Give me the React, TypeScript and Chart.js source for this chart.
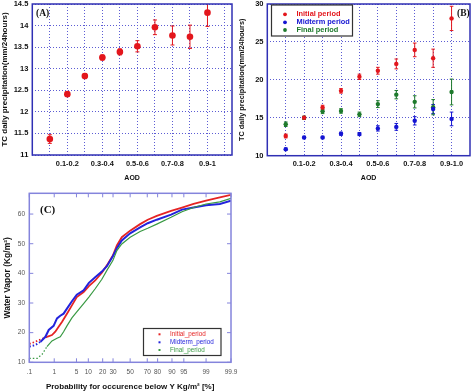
import React, { useEffect, useRef } from 'react';
import { Chart, registerables, LinearScale } from 'chart.js';

Chart.register(...registerables);

// ---------------- DATA ----------------
const aodBinsA = ['0-0.1', '0.1-0.2', '0.2-0.3', '0.3-0.4', '0.4-0.5', '0.5-0.6', '0.6-0.7', '0.7-0.8', '0.8-0.9', '0.9-1'];
const aodBinsB = ['0-0.1', '0.1-0.2', '0.2-0.3', '0.3-0.4', '0.4-0.5', '0.5-0.6', '0.6-0.7', '0.7-0.8', '0.8-0.9', '0.9-1.0'];

const precipA = [11.37, 12.41, 12.83, 13.26, 13.39, 13.52, 13.96, 13.77, 13.74, 14.3];
const precipAErr = [0.1, 0.05, 0.06, 0.06, 0.07, 0.13, 0.17, 0.22, 0.27, 0.32];
const yTicksA = [11, 11.5, 12, 12.5, 13, 13.5, 14, 14.5];

const initialB = [12.6, 15.0, 16.35, 18.55, 20.4, 21.2, 22.1, 23.95, 22.85, 28.1];
const initialBErr = [0.25, 0.2, 0.3, 0.3, 0.35, 0.45, 0.65, 0.9, 1.2, 1.6];
const midtermB = [10.85, 12.4, 12.4, 12.9, 12.85, 13.6, 13.8, 14.6, 16.15, 14.85];
const midtermBErr = [0.15, 0.15, 0.15, 0.2, 0.2, 0.35, 0.45, 0.55, 0.6, 0.9];
const finalB = [14.15, 15.0, 15.85, 15.9, 15.45, 16.8, 18.05, 17.1, 16.4, 18.4];
const finalBErr = [0.3, 0.2, 0.3, 0.3, 0.3, 0.45, 0.55, 0.8, 1.0, 1.7];
const yTicksB = [10, 15, 20, 25, 30];

const probTicks = [0.1, 1, 5, 10, 20, 30, 50, 70, 80, 90, 95, 99, 99.9];
const probTickLabels = ['.1', '1', '5', '10', '20', '30', '50', '70', '80', '90', '95', '99', '99.9'];
const vaporTicks = [10, 20, 30, 40, 50, 60];

const initialProb = [0.1, 0.18, 0.3, 0.54, 0.83, 1.09, 1.42, 1.83, 2.64, 3.72, 5.1, 7.7, 10.3, 14.2, 19.3, 23.8, 29.8, 34.2, 39.9, 50, 62, 70.5, 79.3, 89.5, 94.4, 97.4, 99.0, 99.7, 99.9];
const initialVapor = [16.2, 16.9, 17.7, 18.6, 19.2, 20.3, 22.0, 23.6, 26.4, 29.2, 32.0, 33.7, 35.7, 37.6, 40.2, 42.7, 46.0, 49.4, 52.2, 54.4, 56.6, 58.1, 59.4, 61.1, 62.2, 63.4, 64.5, 65.6, 66.5];
const midtermProb = [0.1, 0.18, 0.3, 0.47, 0.63, 0.95, 1.25, 1.61, 2.07, 2.64, 3.72, 5.1, 7.7, 10.3, 14.2, 19.3, 23.8, 29.8, 34.2, 39.9, 50, 62, 70.5, 79.3, 89.5, 94.4, 97.4, 99.0, 99.7, 99.9];
const midtermVapor = [15.3, 15.8, 16.9, 18.6, 20.9, 22.3, 24.8, 25.7, 26.4, 28.1, 30.6, 32.8, 34.3, 36.8, 38.7, 40.6, 42.4, 45.8, 48.5, 51.1, 53.5, 55.5, 56.9, 58.1, 59.8, 61.5, 62.2, 63.0, 63.4, 64.5];
const finalProb = [0.1, 0.22, 0.35, 0.54, 0.83, 1.25, 1.61, 2.07, 2.64, 3.72, 5.1, 7.7, 10.3, 14.2, 19.3, 23.8, 29.8, 34.2, 39.9, 50, 62, 70.5, 79.3, 89.5, 94.4, 97.4, 99.0, 99.7, 99.9];
const finalVapor = [11.3, 11.3, 12.7, 15.3, 17.2, 18.1, 18.6, 20.3, 22.3, 25.0, 27.0, 29.8, 32.0, 34.8, 38.0, 41.0, 44.3, 47.7, 49.9, 52.2, 54.1, 55.2, 56.6, 58.9, 60.8, 62.2, 63.4, 64.1, 65.3];

// ---------------- STYLE ----------------
const SANS = '"Liberation Sans", Arial, sans-serif';
const SERIF = '"Liberation Serif", "Times New Roman", serif';
const GRID = '#5c5cd4';
const FRAME = '#3030b4';
const RED = '#e3161c';
const BLUE = '#1414d2';
const GREEN = '#1e7a2c';
const C_RED = '#e52424';
const C_BLUE = '#2323dc';
const C_GREEN = '#3a9a44';
const C_FRAME = '#8484dc';

// ---------------- probability scale ----------------
function probit(p: number): number {
  const a = [-3.969683028665376e1, 2.209460984245205e2, -2.759285104469687e2, 1.38357751867269e2, -3.066479806614716e1, 2.506628277459239];
  const b = [-5.447609879822406e1, 1.615858368580409e2, -1.556989798598866e2, 6.680131188771972e1, -1.328068155288572e1];
  const c = [-7.784894002430293e-3, -3.223964580411365e-1, -2.400758277161838, -2.549732539343734, 4.374664141464968, 2.938163982698783];
  const d = [7.784695709041462e-3, 3.224671290700398e-1, 2.445134137142996, 3.754408661907416];
  const pl = 0.02425;
  if (p < pl) {
    const q = Math.sqrt(-2 * Math.log(p));
    return (((((c[0] * q + c[1]) * q + c[2]) * q + c[3]) * q + c[4]) * q + c[5]) / ((((d[0] * q + d[1]) * q + d[2]) * q + d[3]) * q + 1);
  }
  if (p <= 1 - pl) {
    const q = p - 0.5, r = q * q;
    return ((((((a[0] * r + a[1]) * r + a[2]) * r + a[3]) * r + a[4]) * r + a[5]) * q) / (((((b[0] * r + b[1]) * r + b[2]) * r + b[3]) * r + b[4]) * r + 1);
  }
  const q = Math.sqrt(-2 * Math.log(1 - p));
  return -(((((c[0] * q + c[1]) * q + c[2]) * q + c[3]) * q + c[4]) * q + c[5]) / ((((d[0] * q + d[1]) * q + d[2]) * q + d[3]) * q + 1);
}
function normCdf(z: number): number {
  const t = 1 / (1 + 0.3275911 * Math.abs(z) / Math.SQRT2);
  const y = 1 - (((((1.061405429 * t - 1.453152027) * t) + 1.421413741) * t - 0.284496736) * t + 0.254829592) * t * Math.exp(-z * z / 2);
  return z >= 0 ? (1 + y) / 2 : (1 - y) / 2;
}

class ProbitScale extends (LinearScale as any) {
  static id = 'probit';
  determineDataLimits() {
    const o: any = (this as any).options;
    (this as any).min = o.min ?? 0.1;
    (this as any).max = o.max ?? 99.9;
  }
  buildTicks() {
    return probTicks.map((v) => ({ value: v }));
  }
  configure() {
    super.configure();
    (this as any)._zs = probit((this as any).min / 100);
    (this as any)._ze = probit((this as any).max / 100);
  }
  getPixelForValue(value: number) {
    const s: any = this;
    const z = probit(value / 100);
    return s.getPixelForDecimal((z - s._zs) / (s._ze - s._zs));
  }
  getValueForPixel(pixel: number) {
    const s: any = this;
    const z = s._zs + s.getDecimalForPixel(pixel) * (s._ze - s._zs);
    return normCdf(z) * 100;
  }
}
Chart.register(ProbitScale as any);

// ---------------- plugins ----------------
const errorBarsPlugin = {
  id: 'errorBars',
  beforeDatasetsDraw(chart: any, _a: any, o: any) {
    const ctx = chart.ctx;
    const ys = chart.scales.y;
    const area = chart.chartArea;
    chart.data.datasets.forEach((ds: any, di: number) => {
      if (!ds.errors) return;
      const meta = chart.getDatasetMeta(di);
      ctx.save();
      ctx.beginPath();
      ctx.rect(area.left, area.top, area.right - area.left, area.bottom - area.top);
      ctx.clip();
      ctx.strokeStyle = ds.borderColor;
      ctx.lineWidth = o.width;
      meta.data.forEach((pt: any, i: number) => {
        const v = ds.data[i].y;
        const e = ds.errors[i];
        const y1 = ys.getPixelForValue(v + e);
        const y2 = ys.getPixelForValue(v - e);
        const x = pt.x;
        ctx.beginPath();
        ctx.moveTo(x, y1);
        ctx.lineTo(x, y2);
        ctx.moveTo(x - o.cap, y1);
        ctx.lineTo(x + o.cap, y1);
        ctx.moveTo(x - o.cap, y2);
        ctx.lineTo(x + o.cap, y2);
        ctx.stroke();
      });
      ctx.restore();
    });
  },
};

const framePlugin = {
  id: 'frame',
  afterDatasetsDraw(chart: any, _a: any, o: any) {
    const ctx = chart.ctx;
    const { left, top, right, bottom } = chart.chartArea;
    ctx.save();
    ctx.strokeStyle = o.color;
    ctx.lineWidth = o.width;
    ctx.strokeRect(left, top, right - left, bottom - top);
    if (o.tickLen) {
      ctx.lineWidth = 1;
      ctx.beginPath();
      chart.scales.x.ticks.forEach((t: any) => {
        const x = chart.scales.x.getPixelForValue(t.value);
        ctx.moveTo(x, bottom);
        ctx.lineTo(x, bottom - o.tickLen);
        ctx.moveTo(x, top);
        ctx.lineTo(x, top + o.tickLen);
      });
      chart.scales.y.ticks.forEach((t: any) => {
        const y = chart.scales.y.getPixelForValue(t.value);
        ctx.moveTo(left, y);
        ctx.lineTo(left + o.tickLen, y);
        ctx.moveTo(right, y);
        ctx.lineTo(right - o.tickLen, y);
      });
      ctx.stroke();
    }
    ctx.restore();
  },
};

const panelLabelPlugin = {
  id: 'panelLabel',
  afterDraw(chart: any, _a: any, o: any) {
    const ctx = chart.ctx;
    ctx.save();
    ctx.font = o.font;
    ctx.fillStyle = '#111';
    ctx.textAlign = 'left';
    ctx.textBaseline = 'middle';
    ctx.fillText(o.text, o.x, o.y);
    ctx.restore();
  },
};

const boxLegendPlugin = {
  id: 'boxLegend',
  afterDraw(chart: any, _a: any, o: any) {
    if (!o || !o.box) return;
    const ctx = chart.ctx;
    const [x1, y1, x2, y2] = o.box;
    ctx.save();
    ctx.fillStyle = '#fff';
    ctx.fillRect(x1, y1, x2 - x1, y2 - y1);
    ctx.strokeStyle = o.borderColor;
    ctx.lineWidth = o.borderWidth;
    ctx.strokeRect(x1, y1, x2 - x1, y2 - y1);
    ctx.font = o.font;
    ctx.textBaseline = 'middle';
    ctx.textAlign = 'left';
    chart.data.datasets.forEach((ds: any, i: number) => {
      const y = o.rows[i];
      ctx.fillStyle = ds.borderColor;
      if (o.marker === 'circle') {
        ctx.beginPath();
        ctx.arc(o.markerX, y, o.markerSize, 0, Math.PI * 2);
        ctx.fill();
      } else {
        ctx.fillRect(o.markerX - o.markerSize, y - o.markerSize, o.markerSize * 2, o.markerSize * 2);
      }
      ctx.fillText(ds.label, o.textX, y);
    });
    ctx.restore();
  },
};

function zeroPad(s: any) {
  s.paddingLeft = 0;
  s.paddingRight = 0;
  s.paddingTop = 0;
  s.paddingBottom = 0;
}

const boldFont = (size: number) => ({ family: SANS, size, weight: 'bold' as const });

// ---------------- charts ----------------
function makeA(canvas: HTMLCanvasElement) {
  return new Chart(canvas, {
    type: 'scatter',
    data: {
      datasets: [
        {
          label: 'TC daily precipitation',
          data: precipA.map((v, i) => ({ x: i + 1, y: v })),
          errors: precipAErr,
          backgroundColor: RED,
          borderColor: RED,
          pointRadius: 3.3,
          pointBorderWidth: 0,
        } as any,
      ],
    },
    options: {
      animation: false,
      responsive: false,
      devicePixelRatio: 1,
      events: [],
      layout: { padding: { left: 0, top: 3.5, right: 4, bottom: 0 } },
      plugins: {
        legend: { display: false },
        tooltip: { enabled: false },
        errorBars: { width: 1, cap: 2 },
        frame: { color: FRAME, width: 1.5, tickLen: 0 },
        panelLabel: { text: '(A)', x: 36, y: 13.5, font: `bold 9.5px ${SERIF}` },
      } as any,
      scales: {
        x: {
          type: 'linear',
          min: 0,
          max: 11.4,
          afterBuildTicks: (s: any) => {
            s.ticks = aodBinsA.map((_, i) => ({ value: i + 1 })).concat([{ value: aodBinsA.length + 1 }]);
          },
          ticks: {
            autoSkip: false,
            maxRotation: 0,
            minRotation: 0,
            callback: (v: any) => (v % 2 === 0 && v <= aodBinsA.length ? aodBinsA[v - 1] : ''),
            font: boldFont(7.4),
            color: '#111',
            padding: 4.8,
          },
          grid: { color: GRID, lineWidth: 1, drawTicks: false },
          border: { display: false, dash: [1, 2] },
          title: { display: true, text: 'AOD', color: '#111', font: boldFont(7), padding: { top: 0, bottom: 7.5 } },
          afterFit: (s: any) => {
            s.height = 35;
            zeroPad(s);
          },
        },
        y: {
          min: 11,
          max: 14.5,
          afterBuildTicks: (s: any) => {
            s.ticks = yTicksA.map((v) => ({ value: v }));
          },
          ticks: { callback: (v: any) => String(v), font: boldFont(7.5), color: '#111', padding: 4 },
          grid: { color: GRID, lineWidth: 1, drawTicks: false },
          border: { display: false, dash: [1, 2] },
          title: { display: true, text: 'TC daily precipitation(mm/24hours)', color: '#111', font: boldFont(8), padding: { top: 0.3, bottom: 0 } },
          afterFit: (s: any) => {
            s.width = 32.3;
            zeroPad(s);
          },
        },
      },
    } as any,
    plugins: [errorBarsPlugin, framePlugin, panelLabelPlugin],
  });
}

function makeB(canvas: HTMLCanvasElement) {
  const ds = (label: string, vals: number[], errs: number[], col: string) =>
    ({
      label,
      data: vals.map((v, i) => ({ x: i + 1, y: v })),
      errors: errs,
      backgroundColor: col,
      borderColor: col,
      pointRadius: 2.2,
      pointBorderWidth: 0,
    } as any);
  return new Chart(canvas, {
    type: 'scatter',
    data: {
      datasets: [
        ds('Initial period', initialB, initialBErr, RED),
        ds('Midterm period', midtermB, midtermBErr, BLUE),
        ds('Final period', finalB, finalBErr, GREEN),
      ],
    },
    options: {
      animation: false,
      responsive: false,
      devicePixelRatio: 1,
      events: [],
      layout: { padding: { left: 0, top: 3.7, right: 2, bottom: 0 } },
      plugins: {
        legend: { display: false },
        tooltip: { enabled: false },
        errorBars: { width: 1, cap: 1.8 },
        frame: { color: FRAME, width: 1.5, tickLen: 0 },
        panelLabel: { text: '(B)', x: 221, y: 13.5, font: `bold 9.5px ${SERIF}` },
        boxLegend: {
          box: [35.5, 5, 116.5, 36],
          rows: [14.3, 22.3, 30],
          markerX: 49,
          markerSize: 1.9,
          marker: 'circle',
          textX: 60.5,
          font: `bold 7.4px ${SANS}`,
          borderColor: '#333',
          borderWidth: 1.2,
        },
      } as any,
      scales: {
        x: {
          type: 'linear',
          min: 0,
          max: aodBinsB.length + 1,
          afterBuildTicks: (s: any) => {
            s.ticks = aodBinsB.map((_, i) => ({ value: i + 1 }));
          },
          ticks: {
            autoSkip: false,
            maxRotation: 0,
            minRotation: 0,
            callback: (v: any) => (v % 2 === 0 ? aodBinsB[v - 1] : ''),
            font: boldFont(7.4),
            color: '#111',
            padding: 4.2,
          },
          grid: { color: GRID, lineWidth: 1, drawTicks: false },
          border: { display: false, dash: [1, 2] },
          title: { display: true, text: 'AOD', color: '#111', font: boldFont(7), padding: { top: 0, bottom: 7.5 } },
          afterFit: (s: any) => {
            s.height = 34.3;
            zeroPad(s);
          },
        },
        y: {
          min: 10,
          max: 30,
          afterBuildTicks: (s: any) => {
            s.ticks = yTicksB.map((v) => ({ value: v }));
          },
          ticks: { callback: (v: any) => String(v), font: boldFont(7.5), color: '#111', padding: 3.8 },
          grid: { color: GRID, lineWidth: 1, drawTicks: false },
          border: { display: false, dash: [1, 2] },
          title: { display: true, text: 'TC daily precipitation(mm/24hours)', color: '#111', font: boldFont(7.3), padding: { top: 1.3, bottom: 0 } },
          afterFit: (s: any) => {
            s.width = 31.3;
            zeroPad(s);
          },
        },
      },
    } as any,
    plugins: [errorBarsPlugin, framePlugin, panelLabelPlugin, boxLegendPlugin],
  });
}

function makeC(canvas: HTMLCanvasElement) {
  const line = (label: string, probs: number[], vals: number[], col: string, w: number, dashBelow: number) =>
    ({
      label,
      data: probs.map((p, i) => ({ x: p, y: vals[i] })),
      borderColor: col,
      backgroundColor: col,
      borderWidth: w,
      showLine: true,
      pointRadius: 0,
      tension: 0,
      segment: { borderDash: (ctx: any) => (ctx.p0.parsed.x < dashBelow ? [1.5, 2] : undefined) },
    } as any);
  return new Chart(canvas, {
    type: 'scatter',
    data: {
      datasets: [
        line('Final_period', finalProb, finalVapor, C_GREEN, 1.2, 0.5),
        line('Midterm_period', midtermProb, midtermVapor, C_BLUE, 2, 0.3),
        line('Initial_period', initialProb, initialVapor, C_RED, 1.8, 0.5),
      ],
    },
    options: {
      animation: false,
      responsive: false,
      devicePixelRatio: 1,
      events: [],
      layout: { padding: { left: 0, top: 3.3, right: 9, bottom: 0 } },
      plugins: {
        legend: { display: false },
        tooltip: { enabled: false },
        frame: { color: C_FRAME, width: 1.5, tickLen: 4 },
        panelLabel: { text: '(C)', x: 40, y: 20, font: `bold 11px ${SERIF}` },
        boxLegend: {
          box: [143.5, 138.5, 221, 165.5],
          rows: [160, 152.3, 144.3],
          markerX: 159.5,
          markerSize: 1,
          marker: 'square',
          textX: 170,
          font: `6.3px ${SANS}`,
          borderColor: '#333',
          borderWidth: 1.2,
        },
      } as any,
      scales: {
        x: {
          type: 'probit',
          min: 0.1,
          max: 99.9,
          ticks: {
            autoSkip: false,
            maxRotation: 0,
            minRotation: 0,
            callback: (_v: any, i: number) => probTickLabels[i],
            font: { family: SANS, size: 6.5 },
            color: '#555',
            padding: 6.3,
          },
          grid: { display: false, drawTicks: false },
          border: { display: false },
          title: {
            display: true,
            text: 'Probability for occurence below Y Kg/m² [%]',
            color: '#111',
            font: { family: SANS, size: 8, weight: 'bold', lineHeight: 1 },
            padding: { top: 0, bottom: 0 },
          },
          afterFit: (s: any) => {
            s.height = 28.7;
            zeroPad(s);
          },
        },
        y: {
          min: 10,
          max: 67,
          afterBuildTicks: (s: any) => {
            s.ticks = vaporTicks.map((v) => ({ value: v }));
          },
          ticks: { callback: (v: any) => String(v), font: { family: SANS, size: 6.5 }, color: '#555', padding: 4.3 },
          grid: { display: false, drawTicks: false },
          border: { display: false },
          title: { display: true, text: 'Water Vapor (Kg/m²)', color: '#111', font: boldFont(8.5), padding: { top: 3, bottom: 0 } },
          afterFit: (s: any) => {
            s.width = 29.3;
            zeroPad(s);
          },
        },
      },
    } as any,
    plugins: [framePlugin, panelLabelPlugin, boxLegendPlugin],
  });
}

export default function App() {
  const aRef = useRef<HTMLCanvasElement>(null);
  const bRef = useRef<HTMLCanvasElement>(null);
  const cRef = useRef<HTMLCanvasElement>(null);

  useEffect(() => {
    const charts = [makeA(aRef.current!), makeB(bRef.current!), makeC(cRef.current!)];
    return () => charts.forEach((c) => c.destroy());
  }, []);

  const cs = (l: number, t: number, w: number, h: number): React.CSSProperties => ({
    position: 'absolute',
    left: l,
    top: t,
    width: w,
    height: h,
  });

  return (
    <div style={{ position: 'absolute', left: 0, top: 0, width: 474, height: 391, overflow: 'hidden', background: '#fff' }}>
      <canvas ref={aRef} width={236} height={190} style={cs(0, 0, 236, 190)} />
      <canvas ref={bRef} width={238} height={190} style={cs(236, 0, 238, 190)} />
      <canvas ref={cRef} width={240} height={201} style={cs(0, 190, 240, 201)} />
    </div>
  );
}
